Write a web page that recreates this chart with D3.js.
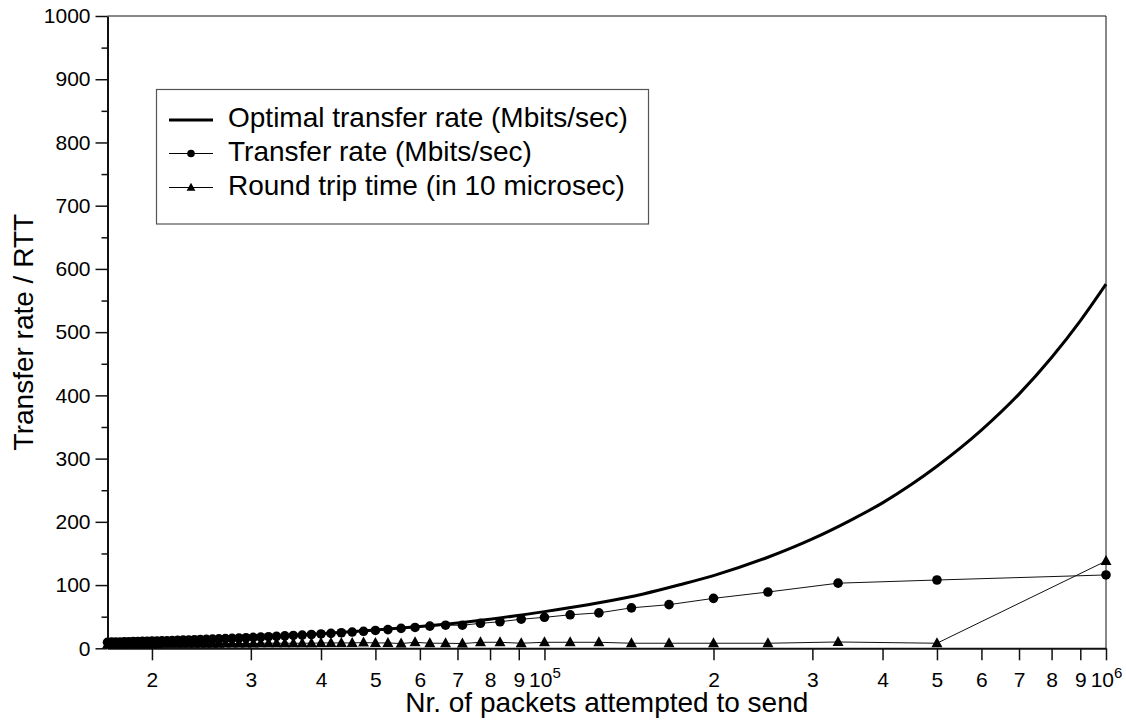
<!DOCTYPE html>
<html>
<head>
<meta charset="utf-8">
<script src="https://cdn.jsdelivr.net/npm/d3@7"></script>
<style>
  body { margin: 0; background: #fff; }
  svg { display: block; font-family: "Liberation Sans", Arial, sans-serif; }
  .tick text { font-size: 21px; fill: #000; }
</style>
</head>
<body>
<svg id="chart" width="1126" height="726"></svg>
<script>
// packets attempted (x), one entry per measured point, ascending
var packets = [16667, 16949, 17241, 17544, 17857, 18182, 18519, 18868, 19231, 19608,
               20000, 20408, 20833, 21277, 21739, 22222, 22727, 23256, 23810, 24390,
               25000, 25641, 26316, 27027, 27778, 28571, 29412, 30303, 31250, 32258,
               33333, 34483, 35714, 37037, 38462, 40000, 41667, 43478, 45455, 47619,
               50000, 52632, 55556, 58824, 62500, 66667, 71429, 76923, 83333, 90909,
               100000, 111111, 125000, 142857, 166667, 200000, 250000, 333333, 500000, 1000000];

var transferRate = [9.5, 9.7, 9.8, 10, 10.2, 10.4, 10.6, 10.8, 11, 11.2,
                    11.4, 11.6, 11.8, 12, 12.3, 12.6, 12.9, 13.2, 13.5, 13.9,
                    14.2, 14.6, 15, 15.3, 15.8, 16.2, 16.7, 17.2, 17.8, 18.3,
                    18.9, 19.6, 20.3, 21, 21.8, 22.7, 23.6, 24.6, 25.7, 26.9,
                    28.2, 29.6, 31.5, 33, 35, 36.5, 36.5, 39.5, 42, 46,
                    49, 53, 56, 64, 69, 79, 89, 103, 108, 116];

var roundTripTime = [6, 6, 6, 6, 6, 6.5, 6.5, 6.5, 6.5, 6.5,
                     6.5, 6.5, 7, 7, 7, 7, 7, 7, 7, 7,
                     7, 7, 7, 7.5, 7.5, 7.5, 7.5, 7.5, 8, 8,
                     8, 8, 8, 8, 8, 8.5, 8.5, 8.5, 8.5, 9,
                     8.5, 8.5, 7.5, 9.5, 8, 8, 7.5, 9.5, 9.5, 8,
                     9.5, 9.5, 9.5, 8, 8, 8, 8, 10, 8, 138];

// optimal curve, read along its length
var optimalPackets = [16667, 20000, 25000, 30000, 40000, 50000, 60000, 70000, 80000, 100000,
                      125000, 150000, 175000, 200000, 250000, 300000, 350000, 400000, 450000,
                      500000, 600000, 700000, 800000, 900000, 1000000];
var optimalRate = [9.6, 11.5, 14.4, 17.3, 23, 29, 34.5, 40, 46, 58,
                   72, 86, 101, 115, 144, 173, 202, 230, 259,
                   288, 345, 402, 460, 518, 576];

var yTicks = [0, 100, 200, 300, 400, 500, 600, 700, 800, 900, 1000];
var yMinorTicks = [50, 150, 250, 350, 450, 550, 650, 750, 850, 950];
var xTickValues = [2e4, 3e4, 4e4, 5e4, 6e4, 7e4, 8e4, 9e4, 1e5,
                   2e5, 3e5, 4e5, 5e5, 6e5, 7e5, 8e5, 9e5, 1e6];
var xTickLabels = ["2", "3", "4", "5", "6", "7", "8", "9", "10^5",
                   "2", "3", "4", "5", "6", "7", "8", "9", "10^6"];

var legendItems = ["Optimal transfer rate (Mbits/sec)", "Transfer rate (Mbits/sec)", "Round trip time (in 10 microsec)"];

var svg = d3.select("#chart");
var plotL = 107.5, plotR = 1106, plotT = 16, plotB = 648.3;
var ink = "#111";

var x = d3.scaleLog().domain([packets[0], packets[packets.length - 1]]).range([plotL, plotR]);
var y = d3.scaleLinear().domain([0, 1000]).range([plotB, plotT]);

// frame (top & right thin)
svg.append("path")
    .attr("d", "M" + plotL + "," + plotT + "H" + plotR + "V" + plotB)
    .attr("fill", "none").attr("stroke", ink).attr("stroke-width", 1);

// y axis
svg.append("g").attr("transform", "translate(" + plotL + ",0)")
    .call(d3.axisLeft(y).tickValues(yTicks).tickSize(12).tickSizeOuter(0).tickPadding(5)
        .tickFormat(d3.format("d")));
svg.append("g").attr("transform", "translate(" + plotL + ",0)")
    .call(d3.axisLeft(y).tickValues(yMinorTicks).tickSize(6).tickFormat(""))
    .select(".domain").remove();

// x axis
var gx = svg.append("g").attr("transform", "translate(0," + plotB + ")")
    .call(d3.axisBottom(x).tickValues(xTickValues).tickSize(12).tickSizeOuter(0)
        .tickFormat(function () { return ""; }));

gx.selectAll(".tick text").attr("y", 38.4).attr("dy", null).each(function (d, i) {
    var lab = xTickLabels[i].split("^");
    var t = d3.select(this);
    t.append("tspan").text(lab[0]);
    if (lab.length > 1) {
        t.append("tspan").attr("dy", -9).style("font-size", "15px").text(lab[1]);
    }
});

svg.selectAll("g").attr("font-family", null);
svg.selectAll(".tick line").attr("stroke", ink).attr("stroke-width", 1.5);
svg.selectAll(".domain").attr("stroke", ink).attr("stroke-width", 2);

// axis titles
svg.append("text")
    .attr("x", (plotL + plotR) / 2).attr("y", 712)
    .attr("text-anchor", "middle").style("font-size", "28px")
    .text("Nr. of packets attempted to send");
svg.append("text")
    .attr("transform", "translate(33," + ((plotT + plotB) / 2) + ") rotate(-90)")
    .attr("text-anchor", "middle").style("font-size", "28px")
    .text("Transfer rate / RTT");

// series
var line = d3.line().x(function (d) { return x(d[0]); }).y(function (d) { return y(d[1]); });
var rttData = packets.map(function (p, i) { return [p, roundTripTime[i]]; });
var rateData = packets.map(function (p, i) { return [p, transferRate[i]]; });
var optData = optimalPackets.map(function (p, i) { return [p, optimalRate[i]]; });

var tri = "M0,-6L5.5,4L-5.5,4Z";

svg.append("path").datum(rttData).attr("d", line)
    .attr("fill", "none").attr("stroke", ink).attr("stroke-width", 1);
svg.selectAll(".tri").data(rttData).enter().append("path")
    .attr("class", "tri")
    .attr("transform", function (d) { return "translate(" + x(d[0]) + "," + y(d[1]) + ")"; })
    .attr("d", tri).attr("fill", "#000");

svg.append("path").datum(rateData).attr("d", line)
    .attr("fill", "none").attr("stroke", ink).attr("stroke-width", 1);
svg.selectAll(".dot").data(rateData).enter().append("circle")
    .attr("class", "dot")
    .attr("cx", function (d) { return x(d[0]); })
    .attr("cy", function (d) { return y(d[1]); })
    .attr("r", 4.8).attr("fill", "#000");

svg.append("path").datum(optData)
    .attr("d", line.curve(d3.curveMonotoneX))
    .attr("fill", "none").attr("stroke", "#000").attr("stroke-width", 3);

// legend
var lg = svg.append("g");
lg.append("rect").attr("x", 156.5).attr("y", 89.5).attr("width", 492).attr("height", 134.5)
    .attr("fill", "#fff").attr("stroke", "#555").attr("stroke-width", 1.2);
var rowY = [120, 153.5, 187.5];
legendItems.forEach(function (name, i) {
    lg.append("line").attr("x1", 169).attr("x2", 213).attr("y1", rowY[i]).attr("y2", rowY[i])
        .attr("stroke", "#000").attr("stroke-width", i === 0 ? 3 : 1);
    if (i === 1) {
        lg.append("circle").attr("cx", 191).attr("cy", rowY[i]).attr("r", 3.8).attr("fill", "#000");
    }
    if (i === 2) {
        lg.append("path").attr("transform", "translate(191," + rowY[i] + ") scale(0.8)")
            .attr("d", tri).attr("fill", "#000");
    }
    lg.append("text").attr("x", 228).attr("y", rowY[i] + 7)
        .style("font-size", "28px").text(name);
});
</script>
</body>
</html>
